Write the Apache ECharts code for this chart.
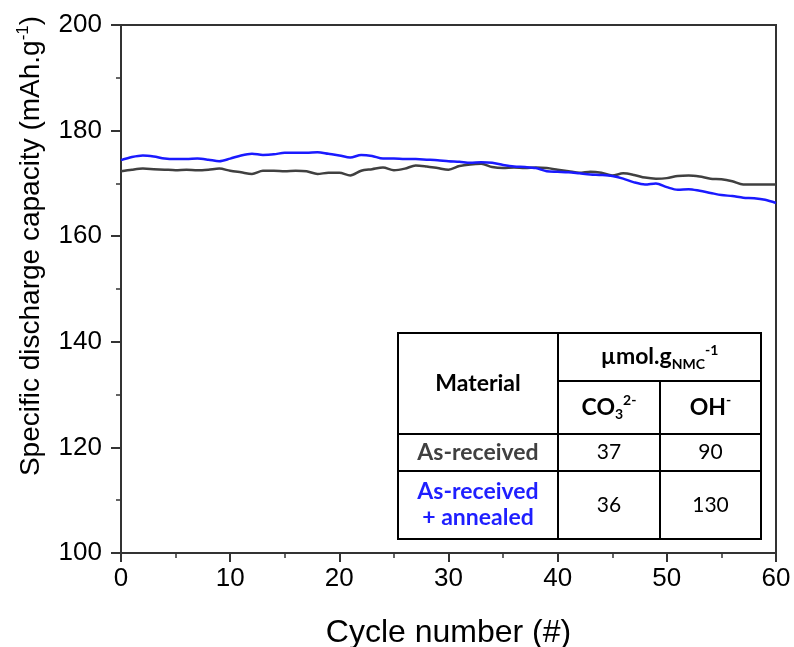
<!DOCTYPE html>
<html>
<head>
<meta charset="utf-8">
<title>Capacity vs cycle</title>
<script src="https://cdn.jsdelivr.net/npm/echarts@6/dist/echarts.min.js"></script>
<style>
  html, body { margin: 0; padding: 0; background: #fff; }
  #main { width: 794px; height: 647px; }
</style>
</head>
<body>
<div id="main"></div>
<script>
// cycle numbers 0..60
var cycles = [0,1,2,3,4,5,6,7,8,9,10,11,12,13,14,15,16,17,18,19,20,21,22,23,24,25,26,27,28,29,30,
  31,32,33,34,35,36,37,38,39,40,41,42,43,44,45,46,47,48,49,50,51,52,53,54,55,56,57,58,59,60];
// As-received (grey)
var asReceived = [172.3,172.6,172.8,172.7,172.6,172.5,172.6,172.5,172.6,172.8,
  172.4,172.1,171.8,172.4,172.4,172.3,172.4,172.3,171.8,172.0,
  172.0,171.5,172.4,172.7,173.0,172.5,172.8,173.4,173.2,172.9,
  172.6,173.3,173.6,173.7,173.1,172.9,173.0,172.9,173.0,172.9,
  172.6,172.3,172.0,172.2,172.0,171.5,171.9,171.6,171.1,170.9,
  171.0,171.4,171.5,171.3,170.9,170.8,170.4,169.8,169.8,169.8,169.8];
// As-received + annealed (blue)
var annealed = [174.4,175.0,175.3,175.1,174.7,174.6,174.6,174.7,174.5,174.2,
  174.7,175.3,175.6,175.4,175.5,175.8,175.8,175.8,175.9,175.6,
  175.3,174.9,175.4,175.2,174.7,174.7,174.6,174.6,174.5,174.4,
  174.2,174.1,173.9,174.0,173.9,173.5,173.2,173.1,172.9,172.3,
  172.2,172.1,171.9,171.7,171.6,171.4,170.9,170.2,169.8,170.0,
  169.3,168.8,168.9,168.6,168.2,167.8,167.6,167.3,167.2,166.9,166.3];

// inset table
var tableMaterials = ['As-received', 'As-received\n+ annealed'];
var tableCO3 = [37, 36];
var tableOH = [90, 130];
var tableColors = ['#404040', '#1f1fff'];

function pairs(xs, ys) {
  var out = [];
  for (var i = 0; i < xs.length; i++) out.push([xs[i], ys[i]]);
  return out;
}

var chart = echarts.init(document.getElementById('main'), null, { renderer: 'canvas' });

var axisFont = 'Liberation Sans, Arial, sans-serif';
var tabFont = 'Lato, Carlito, sans-serif';

// table geometry
var tL = 398, tT = 333, tR = 761, tB = 539;
var c1 = 558, c2 = 660, r1 = 381, r2 = 434, r3 = 471;

var headRich = {
  b: { font: 'bold 23px ' + tabFont, fill: '#000', lineHeight: 28 },
  sub: { font: 'bold 14px ' + tabFont, fill: '#000', lineHeight: 14, verticalAlign: 'bottom' },
  sup: { font: 'bold 14px ' + tabFont, fill: '#000', lineHeight: 15, verticalAlign: 'top' }
};

var tableGraphics = [
  { type: 'rect', shape: { x: tL, y: tT, width: tR - tL, height: tB - tT },
    style: { fill: '#fff', stroke: '#000', lineWidth: 2 }, z: 100 },
  { type: 'line', shape: { x1: c1, y1: tT, x2: c1, y2: tB }, style: { stroke: '#000', lineWidth: 2 }, z: 101 },
  { type: 'line', shape: { x1: c2, y1: r1, x2: c2, y2: tB }, style: { stroke: '#000', lineWidth: 2 }, z: 101 },
  { type: 'line', shape: { x1: c1, y1: r1, x2: tR, y2: r1 }, style: { stroke: '#000', lineWidth: 2 }, z: 101 },
  { type: 'line', shape: { x1: tL, y1: r2, x2: tR, y2: r2 }, style: { stroke: '#000', lineWidth: 2 }, z: 101 },
  { type: 'line', shape: { x1: tL, y1: r3, x2: tR, y2: r3 }, style: { stroke: '#000', lineWidth: 2 }, z: 101 },
  { type: 'text', x: (tL + c1) / 2, y: (tT + r2) / 2, z: 102,
    style: { text: 'Material', font: 'bold 23px ' + tabFont, fill: '#000', align: 'center', verticalAlign: 'middle' } },
  { type: 'text', x: (c1 + tR) / 2, y: (tT + r1) / 2, z: 102,
    style: { text: '{b|µmol.g}{sub|NMC}{sup|-1}', align: 'center', verticalAlign: 'middle', rich: headRich } },
  { type: 'text', x: (c1 + c2) / 2, y: (r1 + r2) / 2, z: 102,
    style: { text: '{b|CO}{sub|3}{sup|2-}', align: 'center', verticalAlign: 'middle', rich: headRich } },
  { type: 'text', x: (c2 + tR) / 2, y: (r1 + r2) / 2, z: 102,
    style: { text: '{b|OH}{sup|-}', align: 'center', verticalAlign: 'middle', rich: headRich } }
];

var rowMid = [(r2 + r3) / 2, (r3 + tB) / 2];
for (var i = 0; i < tableMaterials.length; i++) {
  tableGraphics.push({ type: 'text', x: (tL + c1) / 2, y: rowMid[i], z: 102,
    style: { text: tableMaterials[i], font: 'bold 23px ' + tabFont, fill: tableColors[i],
      align: 'center', verticalAlign: 'middle', lineHeight: 26 } });
  tableGraphics.push({ type: 'text', x: (c1 + c2) / 2, y: rowMid[i], z: 102,
    style: { text: String(tableCO3[i]), font: '21px ' + tabFont, fill: '#000', align: 'center', verticalAlign: 'middle' } });
  tableGraphics.push({ type: 'text', x: (c2 + tR) / 2, y: rowMid[i], z: 102,
    style: { text: String(tableOH[i]), font: '21px ' + tabFont, fill: '#000', align: 'center', verticalAlign: 'middle' } });
}

var option = {
  backgroundColor: '#fff',
  animation: false,
  grid: {
    left: 121, right: 18, top: 25, bottom: 94,
    outerBoundsMode: 'none', containLabel: false,
    show: true, borderColor: '#333', borderWidth: 2, backgroundColor: 'transparent'
  },
  xAxis: {
    type: 'value', min: 0, max: 60, interval: 10,
    name: 'Cycle number (#)', nameLocation: 'middle', nameGap: 64,
    nameTextStyle: { fontFamily: axisFont, fontSize: 32, color: '#000' },
    axisLine: { show: true, lineStyle: { color: '#333', width: 2 } },
    axisTick: { show: true, inside: false, length: 9, lineStyle: { color: '#333', width: 2 } },
    minorTick: { show: true, splitNumber: 2, length: 5, lineStyle: { color: '#333', width: 1.5 } },
    axisLabel: { fontFamily: axisFont, fontSize: 26, color: '#000', margin: 13 },
    splitLine: { show: false }
  },
  yAxis: {
    type: 'value', min: 100, max: 200, interval: 20,
    name: '{n|Specific discharge capacity (mAh.g}{s|-1}{n|)}', nameLocation: 'middle', nameGap: 74,
    nameRotate: 90,
    nameTextStyle: {
      padding: [0, 0, 0, 86],
      rich: {
        n: { fontFamily: axisFont, fontSize: 28, color: '#000', lineHeight: 32 },
        s: { fontFamily: axisFont, fontSize: 17, color: '#000', lineHeight: 18, verticalAlign: 'top' }
      }
    },
    axisLine: { show: true, lineStyle: { color: '#333', width: 2 } },
    axisTick: { show: true, inside: false, length: 10, lineStyle: { color: '#333', width: 2 } },
    minorTick: { show: true, splitNumber: 2, length: 5, lineStyle: { color: '#333', width: 1.5 } },
    axisLabel: { fontFamily: axisFont, fontSize: 26, color: '#000', margin: 19 },
    splitLine: { show: false }
  },
  series: [
    {
      name: 'As-received', type: 'line', data: pairs(cycles, asReceived),
      showSymbol: false, smooth: 0.3,
      lineStyle: { color: '#404040', width: 2.5 }, itemStyle: { color: '#404040' }
    },
    {
      name: 'As-received + annealed', type: 'line', data: pairs(cycles, annealed),
      showSymbol: false, smooth: 0.3,
      lineStyle: { color: '#1a1aff', width: 2.5 }, itemStyle: { color: '#1a1aff' }
    }
  ],
  graphic: tableGraphics
};

chart.setOption(option);
</script>
</body>
</html>
